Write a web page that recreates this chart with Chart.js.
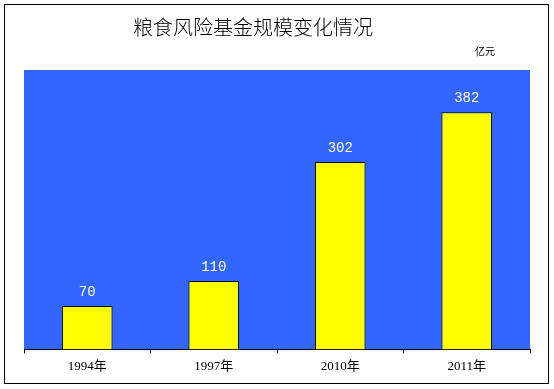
<!DOCTYPE html>
<html>
<head>
<meta charset="utf-8">
<script src="https://cdn.jsdelivr.net/npm/chart.js@4"></script>
<style>
  html, body { margin: 0; padding: 0; background: #fff; }
  #wrap { width: 554px; height: 389px; }
</style>
</head>
<body>
<div id="wrap"><canvas id="fundChart" width="554" height="389"></canvas></div>
<script>
const years  = ['1994年', '1997年', '2010年', '2011年'];
const values = [70, 110, 302, 382];
const TITLE  = '粮食风险基金规模变化情况';
const UNIT   = '亿元';

const BLUE   = '#3366ff';
const YELLOW = '#ffff00';

/* frame, plot background, title, unit, value labels */
const decor = {
  id: 'decor',
  beforeDraw(chart) {
    const { ctx, chartArea: a } = chart;
    ctx.save();
    ctx.fillStyle = '#fff';
    ctx.fillRect(0, 0, chart.width, chart.height);
    ctx.strokeStyle = '#000';
    ctx.lineWidth = 1;
    ctx.strokeRect(4.5, 4.5, 544, 379);
    ctx.fillStyle = BLUE;
    ctx.fillRect(a.left, a.top, a.right - a.left, a.bottom - a.top);
    ctx.fillStyle = '#000';
    ctx.textAlign = 'center';
    ctx.textBaseline = 'middle';
    ctx.font = '300 20px "Noto Sans CJK SC", sans-serif';
    ctx.fillText(TITLE, 253, 27);
    ctx.font = '10px "Noto Sans CJK SC", sans-serif';
    ctx.fillText(UNIT, 485, 51);
    ctx.restore();
  },
  afterDatasetsDraw(chart) {
    const { ctx } = chart;
    ctx.save();
    ctx.fillStyle = '#fff';
    ctx.font = '14px "Liberation Mono", monospace';
    ctx.textAlign = 'center';
    ctx.textBaseline = 'bottom';
    chart.getDatasetMeta(0).data.forEach((bar, i) => {
      ctx.fillText(values[i], bar.x, bar.y - 7);
    });
    ctx.restore();
  }
};

new Chart(document.getElementById('fundChart'), {
  type: 'bar',
  data: {
    labels: years,
    datasets: [{
      data: values,
      backgroundColor: YELLOW,
      borderColor: '#000',
      borderWidth: 1,
      borderSkipped: 'bottom',
      barPercentage: 0.4,
      categoryPercentage: 1
    }]
  },
  options: {
    responsive: false,
    animation: false,
    layout: { padding: { left: 24, right: 24, top: 70, bottom: 10 } },
    plugins: { legend: { display: false }, tooltip: { enabled: false } },
    scales: {
      x: {
        offset: true,
        grid: {
          offset: true,
          drawOnChartArea: false,
          color: '#000',
          tickLength: 4
        },
        border: { display: true, color: '#000', width: 1 },
        ticks: {
          color: '#000',
          padding: 5,
          font: { family: '"Liberation Serif", "Noto Sans CJK SC", serif', size: 13 }
        }
      },
      y: {
        display: false,
        min: 0,
        max: 450
      }
    }
  },
  plugins: [decor]
});
</script>
</body>
</html>
